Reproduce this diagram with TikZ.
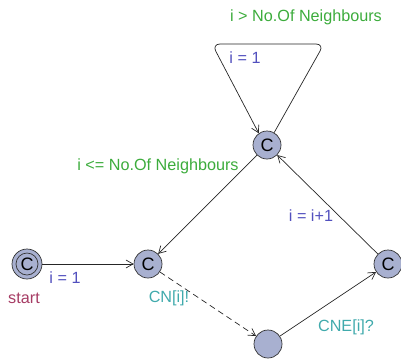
\documentclass[tikz,border=0pt]{standalone}
\usepackage{fontspec}
\setmainfont{Liberation Sans}
\usetikzlibrary{arrows.meta}
\definecolor{locfill}{RGB}{168,176,208}
\definecolor{guardc}{RGB}{60,172,60}
\definecolor{assignc}{RGB}{82,80,190}
\definecolor{syncc}{RGB}{64,170,172}
\definecolor{namec}{RGB}{166,60,100}
\begin{document}
\begin{tikzpicture}[x=1pt,y=-1pt,
  loc/.style={circle,draw=black!80,line width=0.7pt,fill=locfill,minimum size=28pt,inner sep=0pt,font=\fontsize{18}{18}\selectfont},
  trans/.style={draw=black!85,line width=0.7pt,-{Straight Barb[length=7pt,width=8pt]}},
  lbl/.style={font=\fontsize{16.2}{16}\selectfont,inner sep=0pt},
  guard/.style={lbl,text=guardc},
  assign/.style={lbl,text=assignc},
  sync/.style={lbl,text=syncc},
  locname/.style={lbl,text=namec}]
\useasboundingbox (0,0) rectangle (401,360);
% locations
\node[loc] (top) at (267,145) {C};
\node[loc] (mid) at (148,264) {C};
\node[loc,minimum size=30pt] (init) at (27,264) {C};
\draw[black!80,line width=0.7pt] (init.center) circle (11pt);
\node[loc] (bot) at (268,344) {};
\node[loc] (rgt) at (388,264) {C};
% self loop on the top location
\coordinate (lr) at (324,44);
\coordinate (ll) at (212,44);
\draw[trans,rounded corners=8pt] (top.60) -- (lr) -- (ll) -- (top.125);
% other transitions
\draw[trans] (top) -- (mid);
\draw[trans] (init) -- (mid);
\draw[trans,dashed,dash pattern=on 6pt off 4pt] (mid) -- (bot);
\draw[trans] (bot) -- (rgt);
\draw[trans] (rgt) -- (top);
% labels
\node[guard] (g1) at (306,17) {i > No.Of Neighbours};
\node[assign] (a1) at (245,58) {i = 1};
\node[guard] (g2) at (158,166) {i <= No.Of Neighbours};
\node[assign] (a2) at (311,216) {i = i+1};
\node[assign] (a3) at (65,278) {i = 1};
\node[locname] (n1) at (24,298) {start};
\node[sync] (s1) at (169,298) {CN[i]!};
\node[sync] (s2) at (346,327) {CNE[i]?};
\end{tikzpicture}
\end{document}
